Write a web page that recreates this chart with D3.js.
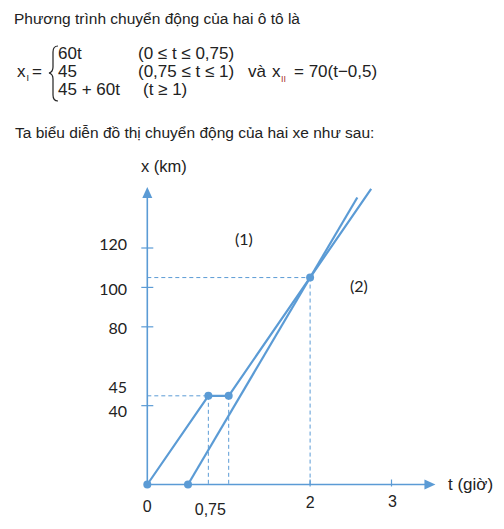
<!DOCTYPE html>
<html>
<head>
<meta charset="utf-8">
<script src="https://cdn.jsdelivr.net/npm/d3@7"></script>
<style>
  body { margin: 0; background: #fff; }
  text { font-family: "Liberation Sans", Arial, sans-serif; fill: #222; }
  .num { font-family: Lato, "Liberation Sans", sans-serif; }
</style>
</head>
<body>
<div id="chart"></div>
<script>
// car I: 60t, then stops at 45, then goes on at 60 km/h
const carI_t = [0, 0.75, 1, 2.75];
const carI_x = [0, 45, 45, 150];
// car II: 70(t - 0,5)
const carII_t = [0.5, 2.58];
const carII_x = [0, 145.6];
// marked points
const dot_t = [0, 0.5, 0.75, 1, 2];
const dot_x = [0, 0, 45, 45, 105];
// axis ticks and labels
const yTicks = [40, 80, 100, 120];
const yLabels = [120, 100, 80, 45, 40];
const xTicks = [2, 3];
const xLabels = ["0", "0,75", "2", "3"];
const xLabelAt = [0, 0.75, 2, 3];

const W = 504, H = 529;
const blue = "#5b9bd5";

const svg = d3.select("#chart").append("svg")
    .attr("width", W)
    .attr("height", H);

// scales (hours -> px, km -> px)
const x = d3.scaleLinear().domain([0, 3]).range([147.3, 391.5]);
const y = d3.scaleLinear().domain([0, 120]).range([484.5, 248]);

// ---- text above the chart
svg.append("text").attr("x", 14).attr("y", 24).attr("font-size", "15.5px")
    .text("Phương trình chuyển động của hai ô tô là");

const f = svg.append("g").attr("font-size", "17px");
f.append("text").attr("x", 17).attr("y", 77).text("x");
f.append("text").attr("x", 26.5).attr("y", 81).attr("font-size", "9px").text("I");
f.append("text").attr("x", 32).attr("y", 77).text("=");
// brace
f.append("path")
    .attr("d", "M58,46 Q53,46 53,52 L53,67 Q53,72 49,73 Q53,74 53,79 L53,95 Q53,101 58,101")
    .attr("fill", "none").attr("stroke", "#222").attr("stroke-width", 1.2);
const rows = [["60t", "(0 ≤ t ≤ 0,75)", 59, 138],
              ["45", "(0,75 ≤ t ≤ 1)", 77, 138],
              ["45 + 60t", "(t ≥ 1)", 95, 143]];
rows.forEach(function(r) {
    f.append("text").attr("x", 58).attr("y", r[2]).text(r[0]);
    f.append("text").attr("x", r[3]).attr("y", r[2]).text(r[1]);
});
f.append("text").attr("x", 248).attr("y", 77).text("và");
f.append("text").attr("x", 272).attr("y", 77).text("x");
f.append("text").attr("x", 281).attr("y", 82).attr("font-size", "9px")
    .style("fill", "#a33").text("II");
f.append("text").attr("x", 294).attr("y", 77).text("= 70(t−0,5)");

svg.append("text").attr("x", 15).attr("y", 138).attr("font-size", "15.5px")
    .text("Ta biểu diễn đồ thị chuyển động của hai xe như sau:");

// ---- axes with arrows
const g = svg.append("g");
const tEnd = 3.54, kmEnd = 151;
g.append("line")
    .attr("x1", x(0)).attr("y1", y(0)).attr("x2", x(tEnd) - 8).attr("y2", y(0))
    .attr("stroke", blue).attr("stroke-width", 1.6);
g.append("path")
    .attr("d", "M" + x(tEnd) + "," + y(0) + " l-11,-5 l0,10 z").attr("fill", blue);
g.append("line")
    .attr("x1", x(0)).attr("y1", y(0)).attr("x2", x(0)).attr("y2", y(kmEnd) + 8)
    .attr("stroke", blue).attr("stroke-width", 1.6);
g.append("path")
    .attr("d", "M" + x(0) + "," + y(kmEnd) + " l-5,11 l10,0 z").attr("fill", blue);

g.selectAll(".ytick").data(yTicks).join("line")
    .attr("x1", x(0) - 6).attr("x2", x(0) + 6)
    .attr("y1", d => y(d)).attr("y2", d => y(d))
    .attr("stroke", blue).attr("stroke-width", 1.2);
g.selectAll(".xtick").data(xTicks).join("line")
    .attr("x1", d => x(d)).attr("x2", d => x(d))
    .attr("y1", y(0) - 5).attr("y2", y(0) + 2)
    .attr("stroke", blue).attr("stroke-width", 1.2);

// y labels, 45 and 40 pushed apart so they don't overlap
const yNudge = {120: 2, 100: 8, 80: 7, 45: -3, 40: 11};
g.selectAll(".ylab").data(yLabels).join("text")
    .attr("class", "num")
    .attr("x", 127).attr("y", d => y(d) + yNudge[d])
    .attr("text-anchor", "end").attr("font-size", "16px")
    .text(d => d);

const xNudge = [27, 30, 23, 22];
g.selectAll(".xlab").data(xLabels).join("text")
    .attr("x", (d, i) => x(xLabelAt[i]) + (i === 3 ? 1 : (i === 1 ? 2 : 0)))
    .attr("y", (d, i) => y(0) + xNudge[i])
    .attr("text-anchor", "middle").attr("font-size", "16px")
    .text(d => d);

g.append("text").attr("x", 141).attr("y", 172).attr("font-size", "16.5px").text("x (km)");
g.append("text").attr("x", 448).attr("y", 490).attr("font-size", "17px").text("t (giờ)");
g.append("text").attr("class", "num").attr("x", 235).attr("y", 245).attr("font-size", "16px").text("(1)");
g.append("text").attr("class", "num").attr("x", 350).attr("y", 292).attr("font-size", "16px").text("(2)");

// ---- dashed guides to the marked points
const guides = [[0.75, 45], [2, 105]];
guides.forEach(function(p) {
    g.append("line")
        .attr("x1", x(0)).attr("y1", y(p[1])).attr("x2", x(p[0])).attr("y2", y(p[1]))
        .attr("stroke", blue).attr("stroke-dasharray", "4,3");
});
[[0.75, 45], [1, 45], [2, 105]].forEach(function(p) {
    g.append("line")
        .attr("x1", x(p[0])).attr("y1", y(p[1])).attr("x2", x(p[0])).attr("y2", y(0))
        .attr("stroke", blue).attr("stroke-dasharray", "4,3");
});

// ---- the two motion lines
const line = d3.line().x(d => x(d[0])).y(d => y(d[1]));
g.append("path")
    .attr("d", line(d3.zip(carI_t, carI_x)))
    .attr("fill", "none").attr("stroke", blue).attr("stroke-width", 2.2);
g.append("path")
    .attr("d", line(d3.zip(carII_t, carII_x)))
    .attr("fill", "none").attr("stroke", blue).attr("stroke-width", 2.2);

g.selectAll(".dot").data(d3.zip(dot_t, dot_x)).join("circle")
    .attr("cx", d => x(d[0])).attr("cy", d => y(d[1]))
    .attr("r", 4).attr("fill", blue);
</script>
</body>
</html>
